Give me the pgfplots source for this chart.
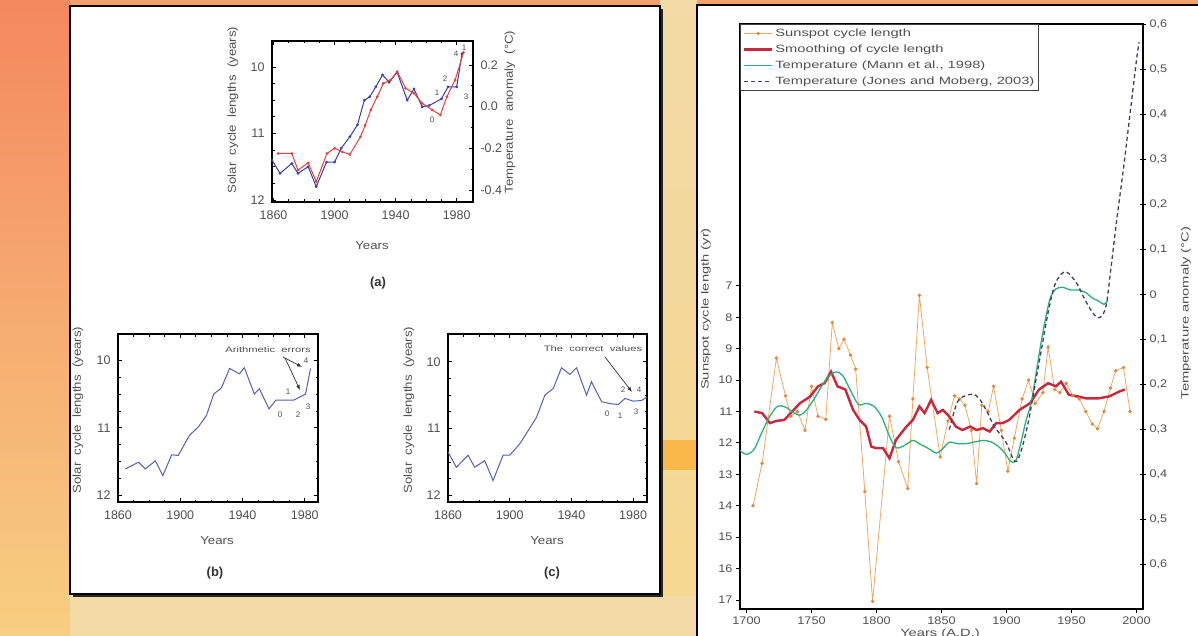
\documentclass[border=0pt]{standalone}
\usepackage{fontspec}
\setmainfont{Liberation Sans}
\newfontfamily\wide[FakeStretch=1.4]{Liberation Sans}
\newfontfamily\wideb[FakeStretch=1.15]{Liberation Sans}
\usepackage{pgfplots}
\pgfplotsset{compat=1.18}
\usetikzlibrary{arrows.meta}
\definecolor{bgA}{HTML}{F2A070}
\definecolor{bgB}{HTML}{F6D890}
\definecolor{bgC}{HTML}{F3DAA6}
\definecolor{blA}{HTML}{3A3FA0}
\definecolor{rdA}{HTML}{E8403C}
\definecolor{blB}{HTML}{5560B8}
\definecolor{orS}{HTML}{F0A860}
\definecolor{orM}{HTML}{E08A40}
\definecolor{crim}{HTML}{C8283C}
\definecolor{grn}{HTML}{2EB07A}
\definecolor{dsh}{HTML}{404060}
\definecolor{txt}{HTML}{505050}
\pgfplotsset{
  smallp/.style={anchor=south west, scale only axis, y dir=reverse,
    xtick={1860,1900,1940,1980}, ytick={10,11,12},
    minor x tick num=3, minor y tick num=3, tick align=inside,
    major tick length=4pt, minor tick length=2.5pt,
    axis line style={line width=1.1pt}, tick style={line width=0.7pt, black},
    ticklabel style={font=\fontsize{12.5}{14}\selectfont, text=txt},
    xticklabel style={yshift=-5pt}, yticklabel style={xshift=-4pt},
    /pgf/number format/assume math mode=true,
    /pgf/number format/set thousands separator={}, clip=false},
}
\begin{document}
\begin{tikzpicture}
\begin{scope}[x=1pt,y=-1pt,yshift=635pt]
\shade[top color=bgA, bottom color=bgB] (0,0) rectangle (1198,635);
\shade[top color=bgA!85!red, bottom color=bgB!90!orange] (0,0) rectangle (70,635);
\shade[top color=bgC, bottom color=bgB] (660,0) rectangle (697,635);
\fill[orange!80!yellow, opacity=0.5] (660,440) rectangle (697,470);
\fill[bgC] (70,596) rectangle (697,635);
% left panel
\fill[black!85] (73,9) rectangle (663,597);
\filldraw[fill=white, draw=black, line width=2.5pt] (70,6) rectangle (660,594);
% right panel
\filldraw[fill=white, draw=black, line width=2.5pt] (697,5) rectangle (1210,650);
\end{scope}

% ---------------- panel (a)
\begin{axis}[smallp, at={(272pt,433pt)}, width=201pt, height=161pt,
  xmin=1859, xmax=1990.7, ymin=9.61, ymax=12.03, ytick pos=left]
\addplot[blA, line width=1pt, mark=*, mark size=0.8pt] coordinates {
(1859,11.4)(1864.3,11.6)(1872,11.45)(1876,11.6)(1882.7,11.5)(1888,11.8)
(1894.7,11.43)(1900,11.43)(1904.4,11.22)(1910,11.05)(1915,10.87)(1919.5,10.5)
(1923,10.45)(1927,10.3)(1931.4,10.12)(1935.8,10.23)(1941,10.08)(1947.6,10.5)
(1952,10.33)(1957.4,10.6)(1962,10.58)(1970,10.48)(1974.3,10.3)(1980,10.3)(1983.5,9.8)};
\end{axis}
\begin{axis}[at={(272pt,433pt)}, anchor=south west, scale only axis, width=201pt, height=161pt,
  xmin=1859, xmax=1990.7, ymin=-0.458, ymax=0.315,
  axis x line=none, axis y line*=right, ytick={-0.4,-0.2,0,0.2},
  yticklabels={-0.4,-0.2,0.0,0.2}, minor y tick num=1, tick align=inside,
  major tick length=4pt, minor tick length=2.5pt,
  axis line style={line width=1.1pt}, tick style={line width=0.7pt, black},
  ticklabel style={font=\fontsize{12.5}{14}\selectfont, text=txt},
  yticklabel style={xshift=4pt}]
\addplot[rdA, line width=1pt, mark=*, mark size=0.8pt] coordinates {
(1863,-0.225)(1872,-0.225)(1876,-0.305)(1882.7,-0.27)(1888,-0.36)(1895,-0.225)
(1900,-0.20)(1905,-0.217)(1910,-0.23)(1917,-0.145)(1920,-0.09)(1923.7,-0.016)
(1928,0.048)(1932,0.112)(1936.7,0.128)(1941,0.168)(1946.6,0.088)(1952,0.064)
(1957.4,0.016)(1963.9,-0.016)(1969.3,-0.04)(1973.6,0.048)(1979,0.128)(1984.5,0.26)};
\end{axis}

% ---------------- panel (b)
\begin{axis}[smallp, at={(118pt,133pt)}, width=200pt, height=168pt,
  xmin=1860, xmax=1988.5, ymin=9.61, ymax=12.1]
\addplot[blB, line width=1pt] coordinates {
(1864.8,11.61)(1873.2,11.51)(1877.5,11.61)(1884,11.49)(1888.8,11.71)(1894.5,11.40)
(1898.7,11.41)(1906,11.11)(1911.5,10.99)(1916.8,10.82)(1921.5,10.5)(1926.4,10.41)
(1931.7,10.12)(1938,10.2)(1941.2,10.11)(1947.6,10.5)(1950.8,10.42)(1957,10.72)
(1961.4,10.59)(1967.8,10.59)(1973,10.59)(1976.2,10.55)(1980.5,10.5)(1983.7,10.12)};
\end{axis}

% ---------------- panel (c)
\begin{axis}[smallp, at={(448pt,133pt)}, width=199pt, height=168pt,
  xmin=1860, xmax=1989, ymin=9.585, ymax=12.1]
\addplot[blB, line width=1pt] coordinates {
(1860,11.35)(1865.4,11.58)(1873,11.4)(1877.3,11.58)(1883.8,11.48)(1889.2,11.78)
(1895.7,11.4)(1900,11.4)(1906.5,11.23)(1912,11.03)(1917.4,10.83)(1922.8,10.5)
(1928.2,10.4)(1933.6,10.09)(1939,10.19)(1943.3,10.09)(1949.8,10.5)(1953,10.3)
(1959.6,10.6)(1966,10.63)(1970.4,10.64)(1974.7,10.55)(1980.1,10.59)(1985.5,10.58)(1988.8,10.53)};
\end{axis}

% ---------------- right chart
\begin{axis}[at={(740pt,26pt)}, anchor=south west, scale only axis, width=403pt, height=585pt,
  xmin=1695, xmax=2005, ymin=-1.34, ymax=17.29, y dir=reverse,
  xtick={1700,1750,1800,1850,1900,1950,2000}, ytick={7,8,9,10,11,12,13,14,15,16,17},
  xtick pos=bottom, ytick pos=left, tick align=outside, major tick length=4pt,
  axis line style={line width=2.2pt}, tick style={line width=0.8pt, black},
  ticklabel style={font=\wideb\fontsize{11}{12}\selectfont, text=txt},
  /pgf/number format/assume math mode=true,
  /pgf/number format/set thousands separator={},
  legend style={at={(0,1)}, anchor=north west, draw=black!75, line width=0.9pt,
    fill=white, font=\wide\fontsize{10.5}{11}\selectfont, text=txt, inner sep=2.5pt,
    row sep=3pt, /tikz/every even column/.append style={column sep=3pt}},
  legend cell align=left,
  legend image code/.code={\draw[mark repeat=2,mark phase=2,#1] plot coordinates {(0pt,0pt) (14pt,0pt) (28pt,0pt)};}]
\addplot[orS, line width=0.8pt, mark=*, mark size=1.3pt, mark options={fill=orM, draw=orM}] coordinates {
(1705,14.0)(1712,12.65)(1723,9.3)(1730,10.5)(1734,11.15)(1739,11.0)(1745,11.6)
(1750,10.2)(1755,11.15)(1761,11.25)(1766,8.17)(1771,9.0)(1775,8.7)(1780,9.2)
(1784,9.65)(1791,13.55)(1797,17.05)(1810,11.15)(1817,12.6)(1824,13.45)(1828,10.6)
(1833,7.3)(1839,9.6)(1849,12.45)(1855,11.3)(1860,10.5)(1864,10.6)(1868,10.8)
(1873,11.6)(1877,13.3)(1881,10.8)(1886,11.0)(1890,10.2)(1896,11.6)(1901,12.9)
(1906,11.85)(1912,10.6)(1917,10.0)(1922,10.75)(1928,10.4)(1932,8.95)(1937,10.3)
(1941,10.4)(1946,10.1)(1951,10.5)(1956,10.6)(1961,11.0)(1966,11.4)(1970,11.55)
(1975,11.0)(1980,10.25)(1984,9.7)(1990,9.6)(1995,11.0)};
\addlegendentry{Sunspot cycle length}
\addplot[crim, line width=2.4pt] coordinates {
(1706,11.0)(1712,11.05)(1718,11.37)(1723,11.3)(1729,11.27)(1734,11.05)(1741,10.74)
(1749,10.52)(1755,10.2)(1760,10.1)(1765,9.73)(1770,10.2)(1776,10.3)(1782,10.95)
(1787,11.27)(1792,11.48)(1796,12.12)(1800,12.17)(1805,12.17)(1810,12.49)(1815,11.9)
(1823,11.48)(1828,11.27)(1833,10.84)(1837,11.05)(1842,10.63)(1847,11.05)(1851,10.95)
(1856,11.16)(1861,11.48)(1866,11.59)(1872,11.48)(1877,11.59)(1882,11.53)(1887,11.64)
(1892,11.37)(1897,11.37)(1902,11.27)(1910,10.95)(1918,10.74)(1925,10.3)(1932,10.1)
(1938,10.2)(1942,10.05)(1948,10.47)(1955,10.52)(1961,10.58)(1971,10.58)(1979,10.52)
(1987,10.36)(1991,10.3)};
\addlegendentry{Smoothing of cycle length}
\addlegendimage{grn, line width=1.3pt}
\addlegendentry{Temperature (Mann et al., 1998)}
\addlegendimage{dsh, line width=1.3pt, dash pattern=on 4pt off 3pt}
\addlegendentry{Temperature (Jones and Moberg, 2003)}
\end{axis}
\begin{axis}[at={(740pt,26pt)}, anchor=south west, scale only axis, width=403pt, height=585pt,
  xmin=1695, xmax=2005, ymin=-0.698, ymax=0.6,
  axis x line=none, axis y line*=right,
  ytick={-0.6,-0.5,-0.4,-0.3,-0.2,-0.1,0,0.1,0.2,0.3,0.4,0.5,0.6},
  yticklabels={{0,6},{0,5},{0,4},{0,3},{0,2},{0,1},0,{0,1},{0,2},{0,3},{0,4},{0,5},{0,6}},
  tick align=center, major tick length=6pt,
  axis line style={line width=2.2pt}, tick style={line width=0.8pt, black},
  ticklabel style={font=\wideb\fontsize{11}{12}\selectfont, text=txt}]
\addplot[grn, line width=1.3pt, smooth] coordinates {
(1695,-0.346)(1700,-0.355)(1706,-0.343)(1712,-0.305)(1718,-0.27)(1724,-0.248)
(1730,-0.25)(1736,-0.262)(1741,-0.268)(1746,-0.257)(1752,-0.232)(1758,-0.203)
(1763,-0.182)(1769,-0.172)(1774,-0.18)(1780,-0.213)(1786,-0.244)(1792,-0.242)
(1798,-0.248)(1804,-0.272)(1810,-0.315)(1815,-0.34)(1821,-0.336)(1828,-0.324)
(1834,-0.333)(1840,-0.342)(1846,-0.352)(1851,-0.342)(1856,-0.328)(1862,-0.331)
(1869,-0.331)(1876,-0.327)(1882,-0.324)(1888,-0.327)(1894,-0.338)(1899,-0.353)
(1903,-0.37)(1907,-0.37)(1911,-0.33)(1915,-0.28)(1919,-0.24)(1923,-0.17)
(1927,-0.1)(1931,-0.04)(1934,-0.005)(1938,0.012)(1943,0.016)(1949,0.01)
(1955,0.01)(1961,0.004)(1966,-0.008)(1971,-0.015)(1975,-0.022)(1978,-0.012)};
\addplot[dsh, line width=1.3pt, dash pattern=on 4pt off 3pt, smooth] coordinates {
(1856,-0.30)(1862,-0.24)(1868,-0.225)(1875,-0.222)(1880,-0.235)(1885,-0.26)
(1890,-0.29)(1895,-0.31)(1900,-0.33)(1905,-0.365)(1908,-0.37)(1912,-0.34)
(1917,-0.28)(1922,-0.2)(1927,-0.12)(1932,-0.04)(1937,0.02)(1942,0.045)
(1946,0.05)(1950,0.04)(1955,0.02)(1960,-0.01)(1965,-0.035)(1970,-0.052)
(1974,-0.045)(1977,-0.02)(1980,0.05)(1985,0.17)(1990,0.28)(1995,0.40)
(2000,0.52)(2002,0.56)};
\end{axis}

% ---------------- texts and annotations
\begin{scope}[x=1pt,y=-1pt,yshift=635pt]
\tikzset{lab/.style={font=\wideb\fontsize{11.5}{13}\selectfont, text=txt}}
% (a)
\node[lab, rotate=90] at (233,110) {Solar\ \ cycle\ \ lengths\ \ (years)};
\node[lab, rotate=90] at (510,112) {Temperature\ \ anomaly\ \ (°C)};
\node[lab] at (372,246) {Years};
\node[font=\bfseries\fontsize{13}{14}\selectfont, text=black!80] at (378,283) {(a)};
\begin{scope}[font=\fontsize{8}{9}\selectfont, text=txt]
\node at (456,54) {4}; \node at (464,48) {1}; \node at (445,79) {2};
\node at (437,93) {1}; \node at (432,120) {0}; \node at (466,97) {3};
\end{scope}
% (b)
\node[lab, rotate=90] at (78,410) {Solar\ \ cycle\ \ lengths\ \ (years)};
\node[lab] at (217,541) {Years};
\node[font=\bfseries\fontsize{13}{14}\selectfont, text=black!80] at (215,573) {(b)};
\node[font=\wide\fontsize{8}{9}\selectfont, text=txt] at (268,350) {Arithmetic\ \ errors};
\draw[black!80, line width=0.7pt, -{Latex[length=5pt]}] (283,357) -- (302,367);
\draw[black!80, line width=0.7pt, -{Latex[length=5pt]}] (285,358) -- (300,390);
\begin{scope}[font=\fontsize{8}{9}\selectfont, text=txt]
\node at (280,415) {0}; \node at (288,392) {1}; \node at (298,415) {2};
\node at (308,407) {3}; \node at (306,361) {4};
\end{scope}
% (c)
\node[lab, rotate=90] at (409,410) {Solar\ \ cycle\ \ lengths\ \ (years)};
\node[lab] at (547,541) {Years};
\node[font=\bfseries\fontsize{13}{14}\selectfont, text=black!80] at (552,573) {(c)};
\node[font=\wide\fontsize{8}{9}\selectfont, text=txt] at (593,349) {The\ \ correct\ \ values};
\draw[black!80, line width=0.7pt, -{Latex[length=5pt]}] (605,357) -- (632,392);
\begin{scope}[font=\fontsize{8}{9}\selectfont, text=txt]
\node at (607,414) {0}; \node at (620,416) {1}; \node at (623,390) {2};
\node at (639,390) {4}; \node at (636,412) {3};
\end{scope}
% right chart
\node[font=\wide\fontsize{10.5}{12}\selectfont, text=txt, rotate=90] at (706,309) {Sunspot cycle length (yr)};
\node[font=\wide\fontsize{10.5}{12}\selectfont, text=txt, rotate=90] at (1186,313) {Temperature anomaly (°C)};
\node[font=\wide\fontsize{10.5}{12}\selectfont, text=txt] at (940,634) {Years (A.D.)};
\end{scope}
\pgfresetboundingbox
\path[use as bounding box] (0pt,0pt) rectangle (1198pt,635pt);
\end{tikzpicture}
\end{document}
